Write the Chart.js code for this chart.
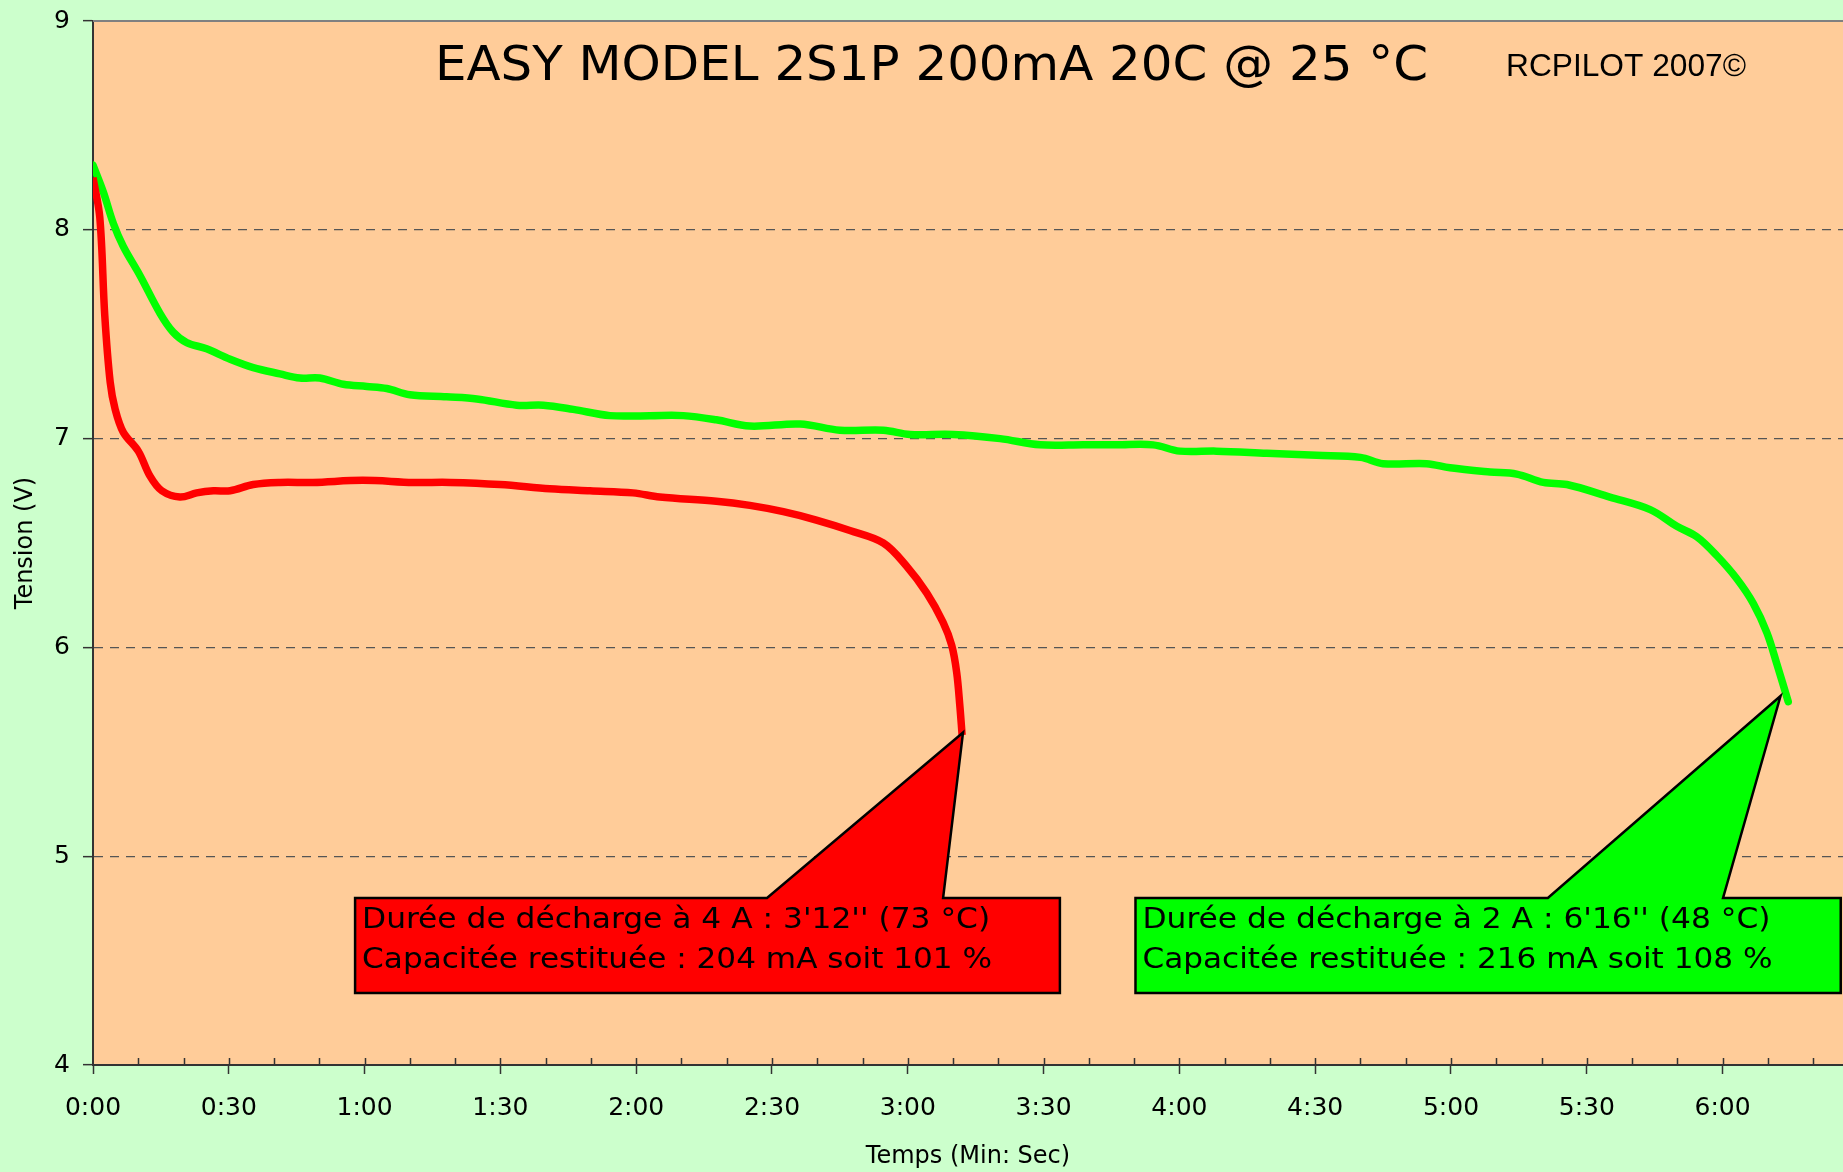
<!DOCTYPE html>
<html>
<head>
<meta charset="utf-8">
<script src="https://cdn.jsdelivr.net/npm/chart.js@4.4.1/dist/chart.umd.min.js"></script>
<style>
  html, body { margin: 0; padding: 0; background: #ccffcc; }
  #wrap { width: 1843px; height: 1172px; }
</style>
</head>
<body>
<div id="wrap"><canvas id="chart"></canvas></div>
<script>
// temps en secondes, tension en volts
const redTime = [0, 1.5, 2.6, 3.8, 4.9, 6.7, 10, 12.6, 15.2, 19.2, 22.9, 26.6, 30.3, 35.4, 41.3, 48.6, 59.6, 70.7,
  78.9, 89.9, 100.9, 109.8, 119.3, 125.2, 137.7, 145.1, 152.5, 159.8, 167.2, 174.6, 179.7, 184.2, 187.8, 189.7,
  190.8, 191.5, 192];
const redVolt = [8.25, 8.06, 7.59, 7.27, 7.14, 7.03, 6.94, 6.82, 6.75, 6.72, 6.74, 6.75, 6.75, 6.78, 6.79, 6.79, 6.80, 6.79,
  6.79, 6.78, 6.76, 6.75, 6.74, 6.72, 6.70, 6.68, 6.65, 6.61, 6.56, 6.50, 6.39, 6.26, 6.12, 6.01,
  5.88, 5.72, 5.58];

const greenTime = [0, 2.3, 4.5, 6.7, 10.4, 14.8, 17.7, 20.7, 25.1, 30.3, 35.4, 41.3, 45.7, 50.1, 55.3, 60.5, 64.9, 70,
  78.1, 84.8, 93.6, 99.5, 106.1, 114.2, 123, 130.4, 137.7, 145.1, 156.2, 165, 174.6, 180.5, 190, 200.4, 209.2,
  218.8, 226.1, 234.2, 240.1, 248.2, 259.3, 270.3, 280, 285, 294.6, 299.8, 308.6, 314.5, 320.4, 325.6, 335.1,
  344, 349.9, 354.3, 358.7, 363.1, 366.8, 369.8, 372, 374.5];
const greenVolt = [8.31, 8.18, 8.03, 7.92, 7.78, 7.60, 7.51, 7.46, 7.43, 7.38, 7.34, 7.31, 7.29, 7.29, 7.26, 7.25, 7.24, 7.21,
  7.20, 7.19, 7.16, 7.16, 7.14, 7.11, 7.11, 7.11, 7.09, 7.06, 7.07, 7.04, 7.04, 7.02, 7.02, 7.00, 6.97,
  6.97, 6.97, 6.97, 6.94, 6.94, 6.93, 6.92, 6.91, 6.88, 6.88, 6.86, 6.84, 6.83, 6.79, 6.78, 6.72,
  6.66, 6.58, 6.53, 6.44, 6.33, 6.21, 6.07, 5.92, 5.74];

const xTicks = [0, 30, 60, 90, 120, 150, 180, 210, 240, 270, 300, 330, 360];
const yTicks = [4, 5, 6, 7, 8, 9];

const chartTitle = 'EASY MODEL 2S1P 200mA 20C @ 25 °C';
const signature = 'RCPILOT 2007©';
const redNote = ["Durée de décharge à 4 A : 3'12'' (73 °C)", 'Capacitée restituée : 204 mA soit 101 %'];
const greenNote = ["Durée de décharge à 2 A : 6'16'' (48 °C)", 'Capacitée restituée : 216 mA soit 108 %'];

// bulles, en unités du graphique (s, V)
const callouts = [
  { lines: redNote, color: '#ff0000', left: 57.9, right: 213.6, top: 4.80, bottom: 4.345,
    base: [148.9, 187.8], tip: [192.2, 5.592] },
  { lines: greenNote, color: '#00ff00', left: 230.3, right: 386.1, top: 4.80, bottom: 4.345,
    base: [321.4, 360.1], tip: [372.8, 5.767] }
];

function toPoints(ts, vs) {
  return ts.map((t, i) => ({ x: t, y: vs[i] }));
}

function fmtTemps(v) {
  return Math.floor(v / 60) + ':' + String(v % 60).padStart(2, '0');
}

function fitText(ctx, text, x, y, w) {
  const m = ctx.measureText(text).width;
  ctx.save();
  ctx.translate(x, y);
  ctx.scale(w / m, 1);
  ctx.fillText(text, 0, 0);
  ctx.restore();
}

const decor = {
  id: 'decor',
  beforeDraw(chart) {
    const { ctx, chartArea: a } = chart;
    ctx.save();
    ctx.fillStyle = '#ccffcc';
    ctx.fillRect(0, 0, chart.width, chart.height);
    ctx.fillStyle = '#ffcc99';
    ctx.fillRect(a.left, a.top, a.right - a.left, a.bottom - a.top);
    ctx.restore();
  },
  beforeDatasetsDraw(chart) {
    const { ctx, chartArea: a, scales } = chart;
    const xs = scales.x;
    ctx.save();
    // bord haut gris
    ctx.strokeStyle = '#808080';
    ctx.lineWidth = 2;
    ctx.beginPath();
    ctx.moveTo(a.left, a.top);
    ctx.lineTo(a.right, a.top);
    ctx.stroke();
    // graduations de l'axe des temps
    ctx.strokeStyle = '#333';
    ctx.lineWidth = 1.5;
    ctx.beginPath();
    for (let t = 10; t <= xs.max; t += 10) {
      const px = Math.round(xs.getPixelForValue(t)) + 0.5;
      ctx.moveTo(px, a.bottom);
      ctx.lineTo(px, a.bottom - 7);
    }
    ctx.stroke();
    // titre
    ctx.fillStyle = '#000';
    ctx.textBaseline = 'middle';
    ctx.font = '48px "DejaVu Sans"';
    fitText(ctx, chartTitle, 435, 68, 993);
    ctx.font = '32px "Liberation Sans"';
    fitText(ctx, signature, 1506, 67, 240);
    ctx.restore();
  },
  afterDatasetsDraw(chart) {
    const { ctx, scales } = chart;
    const xs = scales.x, ys = scales.y;
    ctx.save();
    callouts.forEach(c => {
      const L = xs.getPixelForValue(c.left), R = xs.getPixelForValue(c.right);
      const T = ys.getPixelForValue(c.top), B = ys.getPixelForValue(c.bottom);
      ctx.beginPath();
      ctx.moveTo(L, T);
      ctx.lineTo(xs.getPixelForValue(c.base[0]), T);
      ctx.lineTo(xs.getPixelForValue(c.tip[0]), ys.getPixelForValue(c.tip[1]));
      ctx.lineTo(xs.getPixelForValue(c.base[1]), T);
      ctx.lineTo(R, T);
      ctx.lineTo(R, B);
      ctx.lineTo(L, B);
      ctx.closePath();
      ctx.fillStyle = c.color;
      ctx.fill();
      ctx.lineWidth = 2.5;
      ctx.lineJoin = 'miter';
      ctx.strokeStyle = '#000';
      ctx.stroke();

      ctx.fillStyle = '#000';
      ctx.textBaseline = 'middle';
      ctx.font = '29px "DejaVu Sans Condensed"';
      fitText(ctx, c.lines[0], L + 7, T + 23, 628);
      fitText(ctx, c.lines[1], L + 7, T + 63, 630);
    });
    ctx.restore();
  }
};

new Chart(document.getElementById('chart'), {
  type: 'line',
  data: {
    datasets: [
      {
        label: '4 A',
        data: toPoints(redTime, redVolt),
        borderColor: '#ff0000',
        borderWidth: 7.5,
        borderCapStyle: 'butt',
        borderJoinStyle: 'round',
        tension: 0.35,
        pointRadius: 0
      },
      {
        label: '2 A',
        data: toPoints(greenTime, greenVolt),
        borderColor: '#00ff00',
        borderWidth: 7.5,
        borderCapStyle: 'round',
        borderJoinStyle: 'round',
        tension: 0.35,
        pointRadius: 0
      }
    ]
  },
  options: {
    responsive: true,
    maintainAspectRatio: false,
    animation: false,
    layout: { padding: { top: 21, left: 0, right: 0, bottom: 0 } },
    plugins: {
      legend: { display: false },
      tooltip: { enabled: false }
    },
    scales: {
      x: {
        type: 'linear',
        min: 0,
        max: 386.6,
        afterBuildTicks: s => { s.ticks = xTicks.map(v => ({ value: v })); },
        afterFit: s => { s.height = 107; },
        border: { display: true, color: '#333', width: 2 },
        grid: {
          drawOnChartArea: false,
          tickLength: 9,
          tickColor: '#333',
          tickWidth: 1.5
        },
        ticks: {
          color: '#000',
          padding: 19,
          maxRotation: 0,
          font: { family: 'DejaVu Sans', size: 25 },
          callback: v => fmtTemps(v)
        },
        title: {
          display: true,
          text: 'Temps (Min: Sec)',
          color: '#000',
          font: { family: 'DejaVu Sans', size: 24 },
          padding: { top: 0, bottom: 1 }
        }
      },
      y: {
        min: 4,
        max: 9,
        afterBuildTicks: s => { s.ticks = yTicks.map(v => ({ value: v })); },
        afterFit: s => { s.width = 93; s.paddingTop = 0; s.paddingBottom = 0; },
        border: { display: true, color: '#333', width: 2, dash: [9, 7] },
        grid: {
          color: c => (c.tick && (c.tick.value === 4 || c.tick.value === 9)) ? 'rgba(0,0,0,0)' : '#555',
          lineWidth: 1.3,
          tickBorderDash: [],
          tickLength: 10,
          tickColor: '#333',
          tickWidth: 1.5
        },
        ticks: {
          color: '#000',
          padding: 13,
          font: { family: 'DejaVu Sans', size: 25 }
        },
        title: {
          display: true,
          text: 'Tension (V)',
          color: '#000',
          font: { family: 'DejaVu Sans', size: 24 },
          padding: { top: 11, bottom: 0 }
        }
      }
    }
  },
  plugins: [decor]
});
</script>
</body>
</html>
